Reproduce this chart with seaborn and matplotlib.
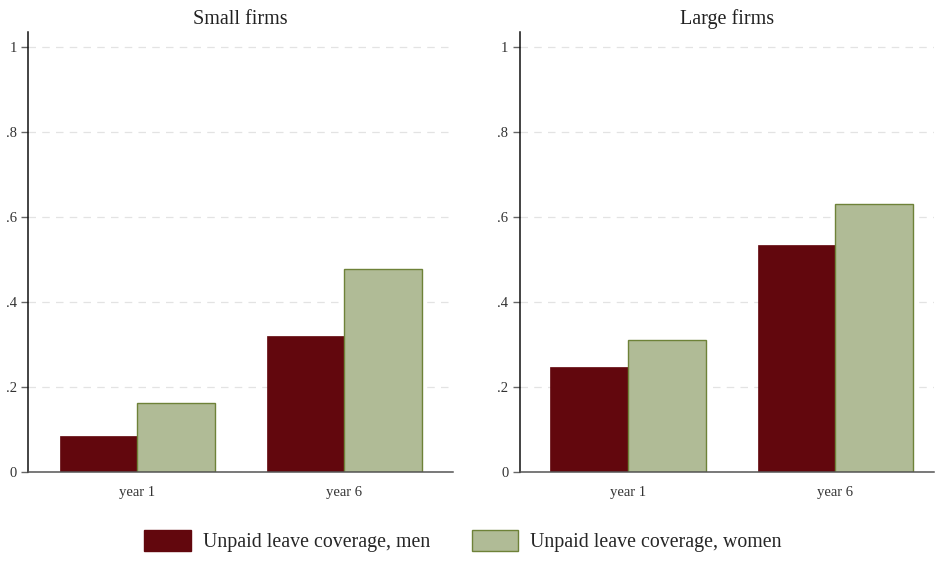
import matplotlib
matplotlib.use("Agg")
import matplotlib.pyplot as plt
from matplotlib.patches import Patch
import seaborn as sns
import pandas as pd

# Coverage shares by firm size, year and sex
years = ["year 1", "year 6"]
panels = ["Small firms", "Large firms"]
small_men = [0.085, 0.320]
small_women = [0.162, 0.479]
large_men = [0.247, 0.534]
large_women = [0.310, 0.630]
series = ["Unpaid leave coverage, men", "Unpaid leave coverage, women"]
yticks = [0, 0.2, 0.4, 0.6, 0.8, 1.0]
ytick_labels = ["0", ".2", ".4", ".6", ".8", "1"]

men_color = "#62070d"
women_color = "#b0bb96"
women_edge = "#6e8238"

sns.set_theme(style="white")
plt.rcParams["font.family"] = ["Liberation Serif", "DejaVu Serif"]

rows = []
for panel, men, women in [(panels[0], small_men, small_women),
                          (panels[1], large_men, large_women)]:
    for yr, m, w in zip(years, men, women):
        rows.append({"panel": panel, "year": yr, "series": series[0], "value": m})
        rows.append({"panel": panel, "year": yr, "series": series[1], "value": w})
df = pd.DataFrame(rows)

fig = plt.figure(figsize=(9.36, 5.61), dpi=100)
W, H = 936, 561
ax_boxes = [(28, 32, 453, 472), (519.5, 32, 934, 472)]
xlims = [(-0.529, 1.527), (-0.524, 1.476)]

for panel, box, xl in zip(panels, ax_boxes, xlims):
    x0, y0, x1, y1 = box
    ax = fig.add_axes([x0 / W, 1 - y1 / H, (x1 - x0) / W, (y1 - y0) / H])
    sub = df[df["panel"] == panel]
    sns.barplot(data=sub, x="year", y="value", hue="series", order=years,
                hue_order=series, palette=[men_color, women_color],
                width=0.75, gap=0, errorbar=None, legend=False, ax=ax,
                saturation=1)
    for i, bar in enumerate(ax.patches):
        if i >= len(years):
            bar.set_edgecolor(women_edge)
            bar.set_linewidth(1.0)
        else:
            bar.set_edgecolor(men_color)
            bar.set_linewidth(0.5)
    ax.set_xlim(*xl)
    ax.set_ylim(0, 1.036)
    ax.set_yticks(yticks)
    ax.set_yticklabels(ytick_labels)
    ax.yaxis.grid(True, color="#e3e3e3", linestyle=(0, (6, 5)), linewidth=0.9)
    ax.set_axisbelow(True)
    ax.set_xlabel("")
    ax.set_ylabel("")
    ax.set_title(panel, fontsize=14.5, color="#222222", pad=6)
    for s in ["top", "right"]:
        ax.spines[s].set_visible(False)
    ax.spines["left"].set_color("#111111")
    ax.spines["left"].set_linewidth(1.1)
    ax.spines["bottom"].set_color("#555555")
    ax.spines["bottom"].set_linewidth(1.1)
    ax.tick_params(axis="y", left=True, length=5, width=1, color="#666666",
                   labelsize=10.5, labelcolor="#333333", pad=3)
    ax.tick_params(axis="x", bottom=False, labelsize=10.5,
                   labelcolor="#333333", pad=4)

handles = [Patch(facecolor=men_color, edgecolor=men_color, label=series[0]),
           Patch(facecolor=women_color, edgecolor=women_edge, linewidth=1.0,
                 label=series[1])]
fig.legend(handles=handles, loc="center", bbox_to_anchor=(463 / W, 1 - 541 / H),
           ncol=2, frameon=False, fontsize=14.3, handlelength=2.35,
           handleheight=1.25, handletextpad=0.6, columnspacing=2.1)

fig.savefig("out.png", dpi=100)
